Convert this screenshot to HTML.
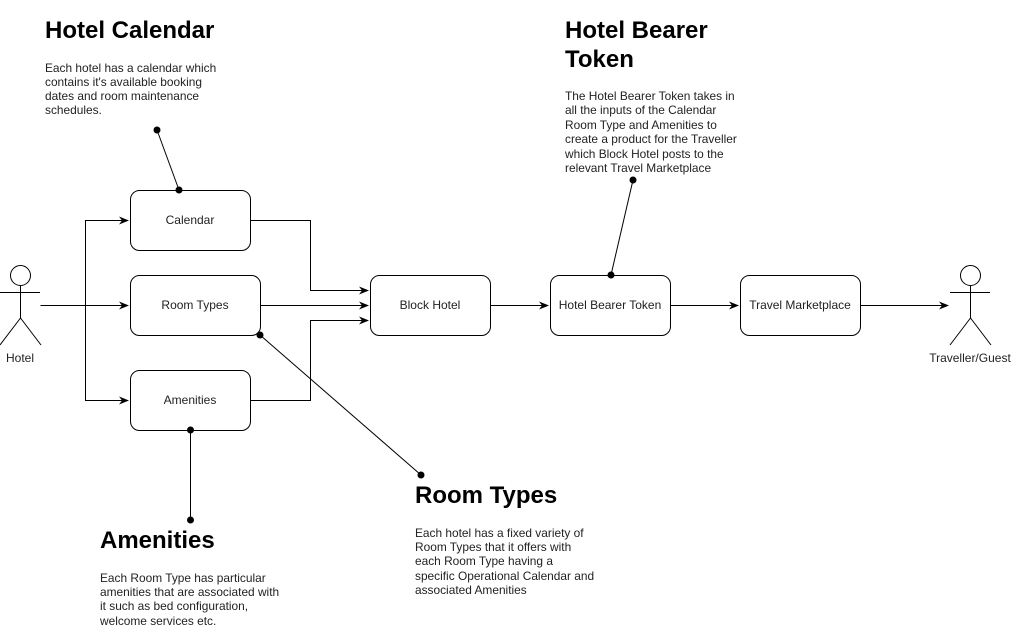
<!DOCTYPE html>
<html><head><style>
body{margin:0;background:#fff;}
svg{display:block;font-family:"Liberation Sans",Arial,sans-serif;}
.b{fill:#fff;stroke:#000;stroke-width:1;}
.l{fill:none;stroke:#000;stroke-width:1;}
.t{font-size:12px;fill:#222;text-anchor:middle;}
.h{font-size:24px;font-weight:bold;fill:#000;}
.d{font-size:11.9px;fill:#222;}
</style></head><body>
<svg width="1012" height="640" viewBox="0 0 1012 640">
<defs><marker id="a" markerWidth="10" markerHeight="8" refX="9" refY="4" orient="auto" markerUnits="userSpaceOnUse"><path d="M0,0 L10,4 L0,8 L3,4 Z" fill="#000"/></marker></defs>
<path class="l" d="M40.5,305.5 H128" marker-end="url(#a)"/>
<path class="l" d="M85.5,305.5 V220.5 H128" marker-end="url(#a)"/>
<path class="l" d="M85.5,305.5 V400.5 H128" marker-end="url(#a)"/>
<path class="l" d="M250,220.5 H310.5 V290.5 H368" marker-end="url(#a)"/>
<path class="l" d="M260,305.5 H368" marker-end="url(#a)"/>
<path class="l" d="M250,400.5 H310.5 V320.5 H368" marker-end="url(#a)"/>
<path class="l" d="M490,305.5 H548" marker-end="url(#a)"/>
<path class="l" d="M670,305.5 H738" marker-end="url(#a)"/>
<path class="l" d="M860,305.5 H948" marker-end="url(#a)"/>
<rect class="b" x="130.5" y="190.5" width="120" height="60" rx="9"/>
<text class="t" x="190" y="224">Calendar</text>
<rect class="b" x="130.5" y="275.5" width="130" height="60" rx="9"/>
<text class="t" x="195" y="309">Room Types</text>
<rect class="b" x="130.5" y="370.5" width="120" height="60" rx="9"/>
<text class="t" x="190" y="404">Amenities</text>
<rect class="b" x="370.5" y="275.5" width="120" height="60" rx="9"/>
<text class="t" x="430" y="309">Block Hotel</text>
<rect class="b" x="550.5" y="275.5" width="120" height="60" rx="9"/>
<text class="t" x="610" y="309">Hotel Bearer Token</text>
<rect class="b" x="740.5" y="275.5" width="120" height="60" rx="9"/>
<text class="t" x="800" y="309">Travel Marketplace</text>
<g class="l">
<circle cx="20.5" cy="275.5" r="10"/><path d="M20.5,285.5 V318 M0,292.5 H40 M20.5,318 L0,345 M20.5,318 L41,345"/>
<circle cx="970.5" cy="275.5" r="10"/><path d="M970.5,285.5 V318 M950,292.5 H990 M970.5,318 L950,345 M970.5,318 L991,345"/>
</g>
<text class="t" x="20" y="362">Hotel</text>
<text class="t" x="970" y="362">Traveller/Guest</text>
<path class="l" d="M157,130 L179,190 M611,275 L633,180 M260,335 L421,475 M190.5,430 V520"/>
<g fill="#000"><circle cx="157" cy="130" r="3.5"/><circle cx="179" cy="190" r="3.5"/><circle cx="611" cy="275" r="3.5"/><circle cx="633" cy="180" r="3.5"/><circle cx="260" cy="335" r="3.5"/><circle cx="421" cy="475" r="3.5"/><circle cx="190.5" cy="430" r="3.5"/><circle cx="190.5" cy="520" r="3.5"/></g>
<text class="h" x="45" y="38">Hotel Calendar</text>
<text class="d"><tspan x="45" y="72">Each hotel has a calendar which</tspan><tspan x="45" y="86">contains it's available booking</tspan><tspan x="45" y="100">dates and room maintenance</tspan><tspan x="45" y="114">schedules.</tspan></text>
<text class="h" x="565" y="38">Hotel Bearer</text>
<text class="h" x="565" y="67">Token</text>
<text class="d"><tspan x="565" y="100">The Hotel Bearer Token takes in</tspan><tspan x="565" y="114">all the inputs of the Calendar</tspan><tspan x="565" y="129">Room Type and Amenities to</tspan><tspan x="565" y="143">create a product for the Traveller</tspan><tspan x="565" y="158">which Block Hotel posts to the</tspan><tspan x="565" y="172">relevant Travel Marketplace</tspan></text>
<text class="h" x="415" y="503">Room Types</text>
<text class="d"><tspan x="415" y="537">Each hotel has a fixed variety of</tspan><tspan x="415" y="551">Room Types that it offers with</tspan><tspan x="415" y="565">each Room Type having a</tspan><tspan x="415" y="580">specific Operational Calendar and</tspan><tspan x="415" y="594">associated Amenities</tspan></text>
<text class="h" x="100" y="548">Amenities</text>
<text class="d"><tspan x="100" y="582">Each Room Type has particular</tspan><tspan x="100" y="596">amenities that are associated with</tspan><tspan x="100" y="610">it such as bed configuration,</tspan><tspan x="100" y="625">welcome services etc.</tspan></text>
</svg>
</body></html>
